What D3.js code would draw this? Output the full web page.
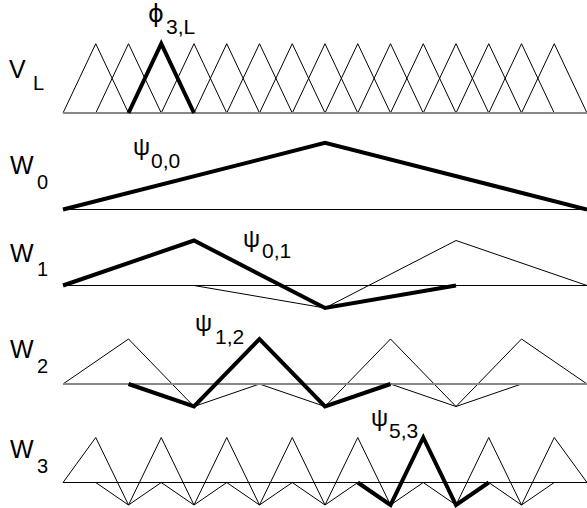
<!DOCTYPE html>
<html>
<head>
<meta charset="utf-8">
<script src="https://cdn.jsdelivr.net/npm/d3@7"></script>
<style>
  html, body { margin: 0; padding: 0; background: #fff; }
  svg { display: block; }
  text { font-family: "Liberation Sans", Arial, sans-serif; fill: #000; }
</style>
</head>
<body>
<div id="chart"></div>
<script>
// ---------- data ----------
const nodeDomain = [0, 16];                     // grid nodes along the interval
const rowNames = ["V", "W", "W", "W", "W"];
const rowSubs  = ["L", "0", "1", "2", "3"];

// V_L : hat functions centred at interior nodes, height (relative units)
const phiCentres = [1, 2, 3, 4, 5, 6, 7, 8, 9, 10, 11, 12, 13, 14, 15];
const phiHeight = 1.54;
const phiBold = 3;                              // phi_{3,L}

// W_0 : single coarse hat
const w0 = [
  [[0, 0], [8, 1.48], [16, 0]]
];
const w0Bold = 0;

// W_1 : two wavelets
const w1 = [
  [[0, 0], [4, 1], [8, -0.5], [12, 0]],
  [[4, 0], [8, -0.5], [12, 1], [16, 0]]
];
const w1Bold = 0;

// W_2 : four wavelets
const w2 = [
  [[0, 0], [2, 1], [4, -0.5], [6, 0]],
  [[2, 0], [4, -0.5], [6, 1], [8, -0.5], [10, 0]],
  [[6, 0], [8, -0.5], [10, 1], [12, -0.5], [14, 0]],
  [[10, 0], [12, -0.5], [14, 1], [16, 0]]
];
const w2Bold = 1;

// W_3 : eight wavelets
const w3 = [
  [[0, 0], [1, 1], [2, -0.5], [3, 0]],
  [[1, 0], [2, -0.5], [3, 1], [4, -0.5], [5, 0]],
  [[3, 0], [4, -0.5], [5, 1], [6, -0.5], [7, 0]],
  [[5, 0], [6, -0.5], [7, 1], [8, -0.5], [9, 0]],
  [[7, 0], [8, -0.5], [9, 1], [10, -0.5], [11, 0]],
  [[9, 0], [10, -0.5], [11, 1], [12, -0.5], [13, 0]],
  [[11, 0], [12, -0.5], [13, 1], [14, -0.5], [15, 0]],
  [[13, 0], [14, -0.5], [15, 1], [16, 0]]
];
const w3Bold = 5;

// function labels
const fnSymbols = ["\u03D5", "\u03C8", "\u03C8", "\u03C8", "\u03C8"];
const fnSubs    = ["3,L", "0,0", "0,1", "1,2", "5,3"];

// ---------- layout ----------
const W = 587, H = 508;
const baselines = [113, 209.5, 285.5, 384, 482.5];
const baseStroke = [
  { c: "#888", w: 2 }, { c: "#000", w: 1 }, { c: "#000", w: 1 },
  { c: "#888", w: 2 }, { c: "#000", w: 1 }
];
const labelPos = [
  { x: 9,  y: 78,  sx: 33, sy: 90 },
  { x: 10, y: 174, sx: 37, sy: 189 },
  { x: 10, y: 262, sx: 37, sy: 276 },
  { x: 10, y: 358, sx: 37, sy: 373 },
  { x: 10, y: 458, sx: 37, sy: 473 }
];
const fnPos = [
  { x: 148, y: 22,  sx: 166, sy: 34 },
  { x: 133, y: 155, sx: 151, sy: 168 },
  { x: 243, y: 247, sx: 262, sy: 258 },
  { x: 195, y: 331, sx: 215, sy: 344 },
  { x: 371, y: 426, sx: 389, sy: 438 }
];

const svg = d3.select("#chart").append("svg")
  .attr("width", W).attr("height", H);

const x = d3.scaleLinear().domain(nodeDomain).range([63, 587]);
const amp = d3.scaleLinear().domain([0, 1]).range([0, 45]);

const rows = [
  phiCentres.map(c => [[c - 1, 0], [c, phiHeight], [c + 1, 0]]),
  w0, w1, w2, w3
];
const bolds = [phiCentres.indexOf(phiBold), w0Bold, w1Bold, w2Bold, w3Bold];

rows.forEach((fns, r) => {
  const b = baselines[r];
  const line = d3.line().x(d => x(d[0])).y(d => b - amp(d[1]));
  const g = svg.append("g");
  g.selectAll("path.thin").data(fns.filter((_, i) => i !== bolds[r]))
    .join("path").attr("class", "thin")
    .attr("d", line).attr("fill", "none")
    .attr("stroke", "#000").attr("stroke-width", 1);
  g.append("line")
    .attr("x1", x(nodeDomain[0])).attr("x2", x(nodeDomain[1]))
    .attr("y1", b).attr("y2", b)
    .attr("stroke", baseStroke[r].c).attr("stroke-width", baseStroke[r].w);
  g.append("path").datum(fns[bolds[r]])
    .attr("d", line).attr("fill", "none")
    .attr("stroke", "#000").attr("stroke-width", 4)
    .attr("stroke-linejoin", "miter");

  const lp = labelPos[r];
  svg.append("text").attr("x", lp.x).attr("y", lp.y)
    .attr("font-size", 25).text(rowNames[r]);
  svg.append("text").attr("x", lp.sx).attr("y", lp.sy)
    .attr("font-size", 20).text(rowSubs[r]);

  const p = fnPos[r];
  svg.append("text").attr("x", p.x).attr("y", p.y)
    .attr("font-size", 24)
    .style("font-family", r === 0 ? "'DejaVu Sans', sans-serif" : null)
    .text(fnSymbols[r]);
  svg.append("text").attr("x", p.sx).attr("y", p.sy)
    .attr("font-size", 21).text(fnSubs[r]);
});
</script>
</body>
</html>
